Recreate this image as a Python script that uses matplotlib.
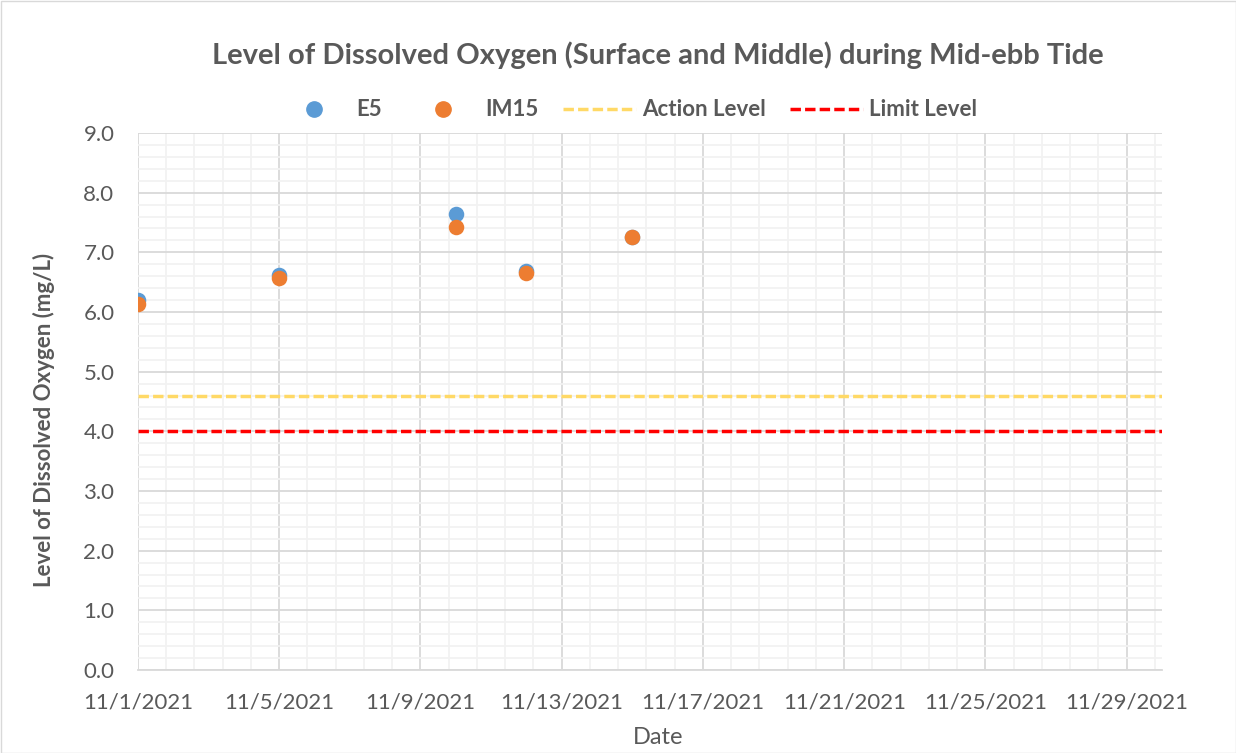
import matplotlib
matplotlib.use("Agg")
import matplotlib.pyplot as plt
import matplotlib.dates as mdates
from matplotlib.lines import Line2D
import numpy as np
from datetime import datetime

dates = ["2021-11-01", "2021-11-05", "2021-11-10", "2021-11-12", "2021-11-15"]
e5 = [6.20, 6.62, 7.65, 6.68, 7.25]
im15 = [6.13, 6.57, 7.43, 6.66, 7.25]
action_level = 4.6
limit_level = 4.0
x_start = "2021-11-01"
x_end = "2021-11-30"

plt.rcParams['font.family'] = ['Lato', 'DejaVu Sans']
txt = '#595959'

fig = plt.figure(figsize=(12.36, 7.53), dpi=100)
ax = fig.add_axes([138/1236, 1-670/753, (1162-138)/1236, (670-133)/753])

xd = mdates.date2num([datetime.strptime(d, "%Y-%m-%d") for d in dates])
x0 = mdates.date2num(datetime.strptime(x_start, "%Y-%m-%d"))
x1 = mdates.date2num(datetime.strptime(x_end, "%Y-%m-%d"))

ax.set_xlim(x0, x1)
ax.set_ylim(0, 9)
ax.set_xticks(np.arange(x0, x1 + 0.01, 4))
ax.set_xticks(np.arange(x0, x1 + 0.01, 0.8), minor=True)
ax.set_yticks(np.arange(0, 9.01, 1))
ax.set_yticks(np.arange(0, 9.01, 0.2), minor=True)
ax.xaxis.set_major_formatter(plt.FuncFormatter(lambda v, p: f"{mdates.num2date(v).month}/{mdates.num2date(v).day}/{mdates.num2date(v).year}"))
ax.yaxis.set_major_formatter(plt.FuncFormatter(lambda v, p: f"{v:.1f}"))

ax.grid(which='minor', color='#F2F2F2', linewidth=1.3, zorder=0)
ax.grid(which='major', color='#D9D9D9', linewidth=1.3, zorder=0)
ax.set_axisbelow(True)
for s in ['top', 'right', 'left']:
    ax.spines[s].set_visible(False)
ax.spines['bottom'].set_color('#D9D9D9')
ax.spines['bottom'].set_linewidth(1.3)
ax.tick_params(which='both', length=0)
ax.tick_params(axis='x', pad=16, labelsize=16, labelcolor=txt)
ax.tick_params(axis='y', pad=17, labelsize=16, labelcolor=txt)

ax.scatter(xd, e5, s=125, color='#5B9BD5', zorder=3, linewidths=0)
ax.scatter(xd, im15, s=125, color='#ED7D31', zorder=4, linewidths=0)
ax.axhline(action_level, color='#FFD966', linewidth=2.5, linestyle=(0, (3, 1.2)), zorder=2)
ax.axhline(limit_level, color='#FF0000', linewidth=2.5, linestyle=(0, (3, 1.2)), zorder=2)

ax.set_xlabel('Date', fontsize=17, color=txt)
ax.xaxis.set_label_coords((658-138)/(1162-138), -(738-670)/(670-133))
ax.xaxis.label.set_va('center')
ax.set_ylabel('Level of Dissolved Oxygen (mg/L)', fontsize=16, color=txt, fontweight='bold')
ax.yaxis.set_label_coords(-(138-44)/(1162-138), (670-420)/(670-133))
ax.yaxis.label.set_va('center')

fig.text(658/1236, 1-55/753, 'Level of Dissolved Oxygen (Surface and Middle) during Mid-ebb Tide',
         ha='center', va='center', fontsize=21, fontweight='bold', color=txt)

handles = [
    Line2D([], [], linestyle='none', marker='o', markersize=11, color='#5B9BD5'),
    Line2D([], [], linestyle='none', marker='o', markersize=11, color='#ED7D31'),
    Line2D([], [], color='#FFD966', linewidth=2.5, linestyle=(0, (3, 1.2))),
    Line2D([], [], color='#FF0000', linewidth=2.5, linestyle=(0, (3, 1.2))),
]
labels = ['E5', 'IM15', 'Action Level', 'Limit Level']
leg = fig.legend(handles, labels, loc='center', bbox_to_anchor=(627/1236, 1-110/753), ncol=4, frameon=False,
                 handlelength=3.3, columnspacing=1.1, handletextpad=0.25,
                 prop={'weight': 'bold', 'size': 16})
for t in leg.get_texts():
    t.set_color(txt)

fig.add_artist(plt.Rectangle((0.5/1236, 0.5/753), 1-1/1236, 1-1/753, transform=fig.transFigure,
                             fill=False, edgecolor='#D9D9D9', linewidth=1))

fig.savefig('out.png', dpi=100)
